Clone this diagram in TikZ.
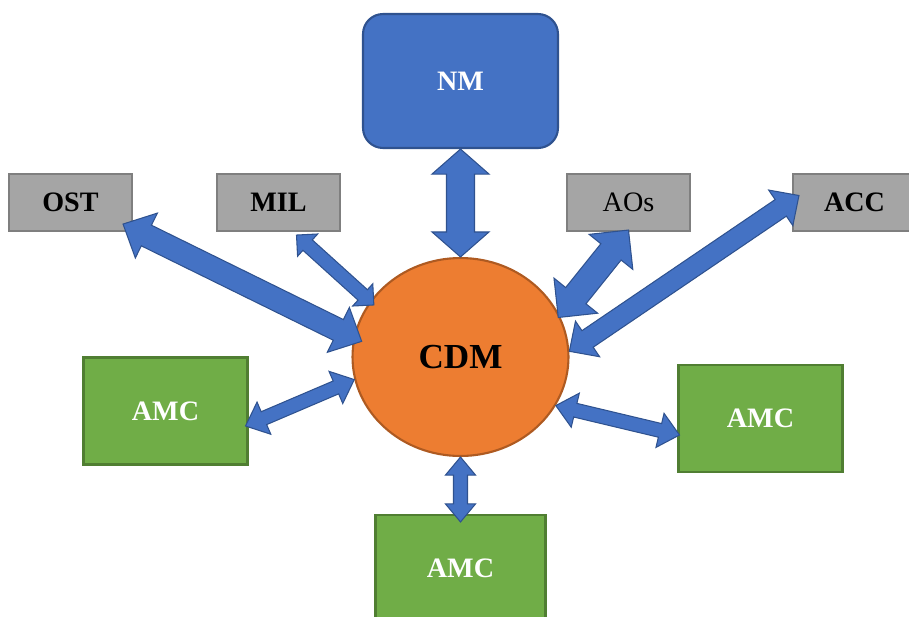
\documentclass[tikz,border=0pt]{standalone}
\usepackage{fontspec}
\setmainfont{Liberation Serif}
\usetikzlibrary{calc,shapes.geometric}

\definecolor{nmblue}{HTML}{4472C4}
\definecolor{nmedge}{HTML}{2F528F}
\definecolor{cdmorange}{HTML}{ED7D31}
\definecolor{cdmedge}{HTML}{AE5A21}
\definecolor{amcgreen}{HTML}{70AD47}
\definecolor{amcedge}{HTML}{507E32}
\definecolor{boxgray}{HTML}{A5A5A5}
\definecolor{grayedge}{HTML}{7F7F7F}

\tikzset{
  labelfont/.style={font=\fontsize{16}{19}\selectfont\bfseries},
  graybox/.style={rectangle, draw=grayedge, fill=boxgray, line width=1.2pt,
    minimum width=2.46cm, minimum height=1.14cm, labelfont},
  amcbox/.style={rectangle, draw=amcedge, fill=amcgreen, line width=1.2pt,
    minimum width=3.28cm, minimum height=2.14cm, text=white, labelfont},
  nmbox/.style={rectangle, rounded corners=0.4cm, draw=nmedge, fill=nmblue,
    line width=1.2pt, minimum width=3.9cm, minimum height=2.68cm,
    text=white, labelfont},
  cdmcircle/.style={ellipse, draw=cdmedge, fill=cdmorange, line width=1.2pt,
    minimum width=4.32cm, minimum height=3.96cm, inner sep=0pt,
    font=\fontsize{20}{24}\selectfont\bfseries},
  flowarrow/.style={draw=nmedge, fill=nmblue, line width=0.6pt, line join=miter},
}

% double block arrow: from, to, half shaft, half head, head length
\newcommand{\biarrow}[5]{%
  \coordinate (pa) at (#1);
  \coordinate (pb) at (#2);
  \coordinate (ha) at ($(pa)!#5!(pb)$);
  \coordinate (hb) at ($(pb)!#5!(pa)$);
  \path[flowarrow] (pa) -- ($(ha)!#4!90:(pb)$) -- ($(ha)!#3!90:(pb)$)
    -- ($(hb)!#3!-90:(pa)$) -- ($(hb)!#4!-90:(pa)$) -- (pb)
    -- ($(hb)!#4!90:(pa)$) -- ($(hb)!#3!90:(pa)$)
    -- ($(ha)!#3!-90:(pb)$) -- ($(ha)!#4!-90:(pb)$) -- cycle;
}

\begin{document}
\begin{tikzpicture}[x=0.02cm, y=-0.02cm]
  \useasboundingbox (0,0) rectangle (909,616);
  \clip (0,0) rectangle (909,616);

  % top row
  \node[nmbox] (nm) at (460.5,81) {NM};
  \node[graybox] (ost) at (70.5,202.5) {OST};
  \node[graybox] (mil) at (278.5,202.5) {MIL};
  \node[graybox, font=\fontsize{16}{19}\selectfont] (aos) at (628.5,202.5) {AOs};
  \node[graybox] (acc) at (854.5,202.5) {ACC};

  % centre and the AMCs
  \node[cdmcircle] (cdm) at (460.5,357) {CDM};
  \node[amcbox] (amcl) at (165.5,411) {AMC};
  \node[amcbox] (amcr) at (760.5,418.5) {AMC};
  \node[amcbox, minimum width=3.4cm] (amcb) at (460.5,568.5) {AMC};

  % arrows
  \biarrow{nm.south}{cdm.north}{0.28cm}{0.57cm}{0.5cm}
  \biarrow{$(ost.south east)+(-10,-8)$}{$(cdm.center)!0.92!(cdm.171)$}{0.23cm}{0.5cm}{0.52cm}
  \biarrow{$(mil.south)+(18,3)$}{$(cdm.center)!0.95!(cdm.149)$}{0.14cm}{0.3cm}{0.3cm}
  \biarrow{$(aos.south)+(0,-2)$}{$(cdm.center)!0.98!(cdm.22)$}{0.26cm}{0.56cm}{0.56cm}
  \biarrow{$(acc.west)+(7,-7)$}{cdm.3}{0.2cm}{0.43cm}{0.44cm}
  \biarrow{$(amcl.east)+(-3,15)$}{cdm.192}{0.14cm}{0.35cm}{0.4cm}
  \biarrow{$(amcr.west)+(2,16.5)$}{cdm.333}{0.14cm}{0.35cm}{0.4cm}
  \biarrow{$(amcb.north)+(0,8)$}{cdm.south}{0.14cm}{0.3cm}{0.36cm}
\end{tikzpicture}
\end{document}
